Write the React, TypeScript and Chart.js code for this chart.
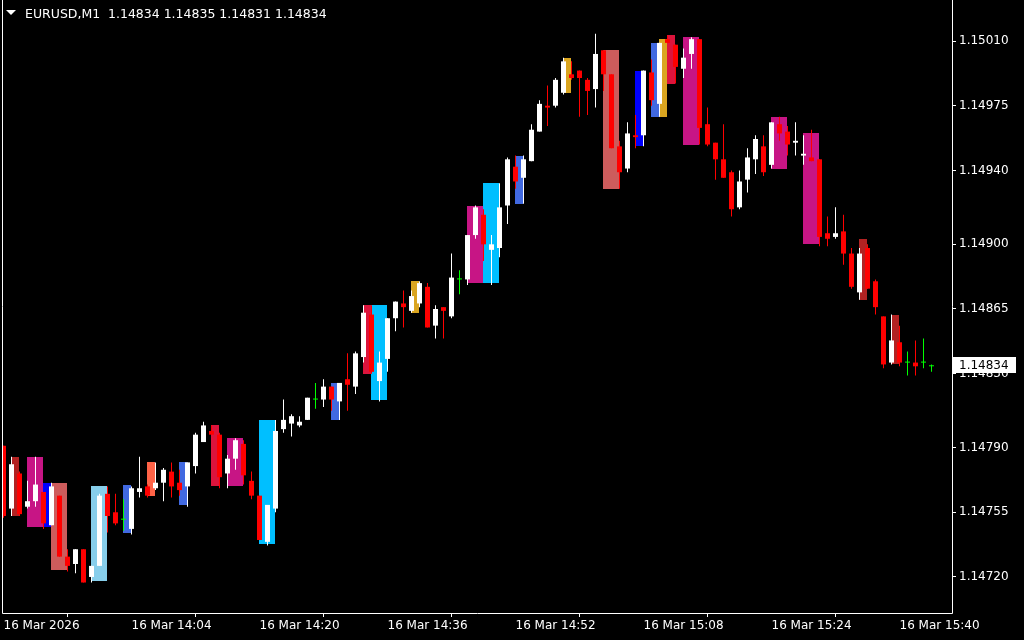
import React, { useEffect, useRef } from 'react';
import { Chart, registerables } from 'chart.js';

Chart.register(...registerables);

// ---- Data (EURUSD M1, 16 Mar 2026 13:48 .. 15:44) ----
const opens = [
  1.14791, 1.14757, 1.14776, 1.14758, 1.14761, 1.14766, 1.14748, 1.14764, 1.14731, 1.14727,
  1.14735, 1.14720, 1.14726, 1.14765, 1.14755, 1.14751, 1.14746, 1.14766, 1.14769, 1.14768,
  1.14771, 1.14777, 1.14771, 1.14769, 1.14780, 1.14793, 1.14799, 1.14797, 1.14776, 1.14784,
  1.14792, 1.14772, 1.14764, 1.14739, 1.14757, 1.14800, 1.14803, 1.14802, 1.14805, 1.14816,
  1.14816, 1.14823, 1.14815, 1.14827, 1.14823, 1.14839, 1.14862, 1.14826, 1.14838, 1.14860,
  1.14868, 1.14864, 1.14868, 1.14877, 1.14856, 1.14866, 1.14861, 1.14881, 1.14881, 1.14905,
  1.14916, 1.14897, 1.14898, 1.14921, 1.14942, 1.14936, 1.14945, 1.14961, 1.14975, 1.14975,
  1.14982, 1.14992, 1.14994, 1.14989, 1.14984, 1.15005, 1.14992, 1.14953, 1.14941, 1.14959,
  1.14959, 1.14993, 1.14976, 1.15011, 1.15008, 1.14995, 1.15003, 1.15011, 1.14965, 1.14955,
  1.14946, 1.14939, 1.14920, 1.14935, 1.14946, 1.14953, 1.14943, 1.14965, 1.14961, 1.14955,
  1.14948, 1.14947, 1.14946, 1.14906, 1.14904, 1.14907, 1.14895, 1.14874, 1.14898, 1.14880,
  1.14861, 1.14836, 1.14847, 1.14836, 1.14836, 1.14836, 1.14834,
];
const highs = [
  1.14791, 1.14785, 1.14777, 1.14772, 1.14785, 1.14766, 1.14771, 1.14764, 1.14735, 1.14735,
  1.14735, 1.14726, 1.14765, 1.14769, 1.14765, 1.14762, 1.14769, 1.14785, 1.14770, 1.14782,
  1.14779, 1.14782, 1.14778, 1.14782, 1.14798, 1.14804, 1.14802, 1.14798, 1.14786, 1.14795,
  1.14794, 1.14777, 1.14764, 1.14759, 1.14805, 1.14816, 1.14808, 1.14807, 1.14817, 1.14825,
  1.14827, 1.14823, 1.14825, 1.14841, 1.14842, 1.14867, 1.14867, 1.14842, 1.14860, 1.14869,
  1.14875, 1.14875, 1.14880, 1.14879, 1.14867, 1.14866, 1.14895, 1.14886, 1.14905, 1.14921,
  1.14919, 1.14905, 1.14933, 1.14947, 1.14948, 1.14948, 1.14965, 1.14978, 1.14986, 1.14990,
  1.15001, 1.14999, 1.14994, 1.14990, 1.15014, 1.15005, 1.14992, 1.14956, 1.14966, 1.14970,
  1.14994, 1.15000, 1.15009, 1.15013, 1.15008, 1.15006, 1.15012, 1.15011, 1.14974, 1.14955,
  1.14965, 1.14940, 1.14940, 1.14952, 1.14959, 1.14959, 1.14966, 1.14969, 1.14964, 1.14966,
  1.14959, 1.14962, 1.14946, 1.14915, 1.14920, 1.14916, 1.14898, 1.14898, 1.14900, 1.14881,
  1.14861, 1.14862, 1.14856, 1.14842, 1.14848, 1.14849, 1.14835,
];
const lows = [
  1.14752, 1.14753, 1.14753, 1.14757, 1.14758, 1.14746, 1.14748, 1.14731, 1.14723, 1.14722,
  1.14717, 1.14717, 1.14726, 1.14744, 1.14748, 1.14745, 1.14743, 1.14763, 1.14763, 1.14767,
  1.14761, 1.14763, 1.14764, 1.14758, 1.14776, 1.14793, 1.14797, 1.14768, 1.14768, 1.14778,
  1.14770, 1.14762, 1.14740, 1.14737, 1.14755, 1.14798, 1.14796, 1.14801, 1.14805, 1.14811,
  1.14812, 1.14810, 1.14805, 1.14810, 1.14819, 1.14836, 1.14830, 1.14815, 1.14831, 1.14853,
  1.14855, 1.14863, 1.14866, 1.14855, 1.14849, 1.14849, 1.14860, 1.14873, 1.14878, 1.14903,
  1.14891, 1.14878, 1.14893, 1.14911, 1.14930, 1.14922, 1.14945, 1.14961, 1.14964, 1.14974,
  1.14981, 1.14989, 1.14969, 1.14970, 1.14974, 1.14983, 1.14952, 1.14930, 1.14939, 1.14952,
  1.14953, 1.14975, 1.14969, 1.15009, 1.14987, 1.14990, 1.14995, 1.14954, 1.14953, 1.14935,
  1.14936, 1.14915, 1.14919, 1.14928, 1.14938, 1.14937, 1.14941, 1.14956, 1.14948, 1.14948,
  1.14943, 1.14945, 1.14899, 1.14899, 1.14903, 1.14889, 1.14876, 1.14870, 1.14876, 1.14862,
  1.14833, 1.14835, 1.14834, 1.14829, 1.14829, 1.14833, 1.14831,
];
const closes = [
  1.14753, 1.14781, 1.14754, 1.14761, 1.14770, 1.14749, 1.14769, 1.14731, 1.14726, 1.14735,
  1.14717, 1.14726, 1.14764, 1.14753, 1.14749, 1.14751, 1.14768, 1.14768, 1.14764, 1.14771,
  1.14778, 1.14769, 1.14767, 1.14782, 1.14797, 1.14802, 1.14797, 1.14774, 1.14784, 1.14794,
  1.14775, 1.14764, 1.14740, 1.14759, 1.14799, 1.14805, 1.14807, 1.14804, 1.14817, 1.14816,
  1.14823, 1.14816, 1.14825, 1.14824, 1.14841, 1.14863, 1.14831, 1.14836, 1.14860, 1.14869,
  1.14866, 1.14872, 1.14879, 1.14855, 1.14865, 1.14864, 1.14882, 1.14881, 1.14905, 1.14920,
  1.14900, 1.14900, 1.14920, 1.14946, 1.14934, 1.14946, 1.14962, 1.14976, 1.14974, 1.14989,
  1.14999, 1.14990, 1.14990, 1.14983, 1.15003, 1.14992, 1.14952, 1.14939, 1.14960, 1.14958,
  1.14994, 1.14978, 1.15009, 1.15009, 1.14996, 1.15001, 1.15011, 1.14963, 1.14954, 1.14946,
  1.14936, 1.14919, 1.14934, 1.14947, 1.14957, 1.14939, 1.14966, 1.14960, 1.14954, 1.14956,
  1.14949, 1.14945, 1.14904, 1.14903, 1.14906, 1.14895, 1.14877, 1.14895, 1.14876, 1.14866,
  1.14835, 1.14848, 1.14836, 1.14836, 1.14834, 1.14836, 1.14834,
];

// Indicator rectangles (from candle index to candle index, price top/bottom)
const boxStart = [1, 3, 5, 6, 11, 15, 18, 22, 26, 28, 32, 41, 45, 46, 51, 58, 60, 64, 70, 75, 79, 81, 82, 83, 85, 96, 100, 107, 111];
const boxEnd = [2, 5, 6, 8, 13, 16, 19, 23, 27, 30, 34, 42, 46, 48, 52, 60, 62, 65, 71, 77, 80, 82, 83, 84, 87, 98, 102, 108, 112];
const boxHigh = [
  1.14785, 1.14785, 1.14771, 1.14771, 1.14769, 1.14770, 1.14782, 1.14782, 1.14802, 1.14795,
  1.14805, 1.14825, 1.14867, 1.14867, 1.14880, 1.14921, 1.14933, 1.14948, 1.15001, 1.15005,
  1.14994, 1.15009, 1.15011, 1.15013, 1.15012, 1.14969, 1.14960, 1.14903, 1.14862,
];
const boxLow = [
  1.14753, 1.14747, 1.14747, 1.14724, 1.14718, 1.14744, 1.14764, 1.14759, 1.14769, 1.14769,
  1.14738, 1.14805, 1.14830, 1.14816, 1.14863, 1.14879, 1.14879, 1.14922, 1.14982, 1.14930,
  1.14953, 1.14969, 1.14969, 1.14987, 1.14954, 1.14941, 1.14900, 1.14870, 1.14835,
];
const boxKind = [
  'firebrick', 'magenta', 'blue', 'indianred', 'skyblue', 'royalblue', 'tomato', 'royalblue', 'crimson', 'magenta',
  'deepskyblue', 'royalblue', 'crimson', 'deepskyblue', 'goldenrod', 'magenta', 'deepskyblue', 'royalblue', 'goldenrod', 'indianred',
  'blue', 'royalblue', 'goldenrod', 'crimson', 'magenta', 'magenta', 'magenta', 'firebrick', 'firebrick',
];

const xTickIndex = [0, 16, 32, 48, 64, 80, 96, 112];
const xTickLabels = [
  '16 Mar 2026', '16 Mar 14:04', '16 Mar 14:20', '16 Mar 14:36',
  '16 Mar 14:52', '16 Mar 15:08', '16 Mar 15:24', '16 Mar 15:40',
];
const yTicks = [1.1501, 1.14975, 1.1494, 1.149, 1.14865, 1.1483, 1.1479, 1.14755, 1.1472];
const symbolLabel = 'EURUSD,M1';

const PALETTE: Record<string, string> = {
  firebrick: '#B22222',
  magenta: '#C71585',
  blue: '#0000FF',
  indianred: '#CD5C5C',
  skyblue: '#87CEEB',
  royalblue: '#4169E1',
  tomato: '#FF6347',
  crimson: '#DC143C',
  deepskyblue: '#00BFFF',
  goldenrod: '#DAA520',
};

const FONT = 'DejaVu Sans';

export default function App() {
  const ref = useRef<HTMLCanvasElement | null>(null);

  useEffect(() => {
    const canvas = ref.current;
    if (!canvas) return;
    const n = closes.length;
    const colors = opens.map((o, i) =>
      closes[i] > o ? '#FFFFFF' : closes[i] < o ? '#FF0000' : '#00FF00'
    );

    const boxesPlugin = {
      id: 'boxes',
      beforeDatasetsDraw(chart: any) {
        const { ctx, chartArea, scales } = chart;
        const x = scales.x;
        const y = scales.y;
        ctx.save();
        ctx.beginPath();
        ctx.rect(chartArea.left, chartArea.top, chartArea.right - chartArea.left, chartArea.bottom - chartArea.top);
        ctx.clip();
        boxStart.forEach((s, k) => {
          const x0 = Math.floor(x.getPixelForValue(s));
          const x1 = Math.floor(x.getPixelForValue(boxEnd[k]));
          const y0 = Math.round(y.getPixelForValue(boxHigh[k]));
          const y1 = Math.round(y.getPixelForValue(boxLow[k]));
          ctx.fillStyle = PALETTE[boxKind[k]];
          ctx.fillRect(x0, y0, x1 - x0, y1 - y0);
        });
        ctx.restore();
      },
    };

    const decorPlugin = {
      id: 'decor',
      afterDraw(chart: any) {
        const { ctx, chartArea, scales } = chart;
        const y = scales.y;
        ctx.save();
        // frame
        ctx.strokeStyle = '#FFFFFF';
        ctx.lineWidth = 1;
        ctx.beginPath();
        ctx.moveTo(chartArea.left + 0.5, chartArea.top);
        ctx.lineTo(chartArea.left + 0.5, chartArea.bottom + 0.5);
        ctx.lineTo(chartArea.right + 0.5, chartArea.bottom + 0.5);
        ctx.lineTo(chartArea.right + 0.5, chartArea.top);
        ctx.stroke();

        // current price label
        const last = closes[n - 1];
        const py = Math.round(y.getPixelForValue(last));
        ctx.fillStyle = '#FFFFFF';
        ctx.fillRect(chartArea.right + 1, py - 9, 63, 16);
        ctx.fillStyle = '#000000';
        ctx.font = `12px "${FONT}"`;
        ctx.textBaseline = 'middle';
        ctx.textAlign = 'left';
        ctx.fillText(last.toFixed(5), chartArea.right + 7, py - 0.5);

        // header
        ctx.fillStyle = '#FFFFFF';
        ctx.beginPath();
        ctx.moveTo(6, 10);
        ctx.lineTo(16, 10);
        ctx.lineTo(11, 15);
        ctx.closePath();
        ctx.fill();
        ctx.textBaseline = 'alphabetic';
        ctx.font = `12.5px "${FONT}"`;
        ctx.fillText(symbolLabel, 25, 18);
        const header = `${opens[n - 1].toFixed(5)} ${highs[n - 1].toFixed(5)} ${lows[n - 1].toFixed(5)} ${closes[n - 1].toFixed(5)}`;
        ctx.fillText(header, 108, 18);
        ctx.restore();
      },
    };

    const chart = new Chart(canvas, {
      type: 'bar',
      data: {
        datasets: [
          {
            label: 'body',
            data: opens.map((o, i) => ({ x: i, y: [o, closes[i]] })) as any,
            backgroundColor: colors,
            maxBarThickness: 5,
            minBarLength: 1,
            grouped: false,
            order: 1,
            borderWidth: 0,
            inflateAmount: 0,
          },
          {
            label: 'wick',
            data: lows.map((l, i) => ({ x: i, y: [l, highs[i]] })) as any,
            backgroundColor: colors,
            maxBarThickness: 1,
            grouped: false,
            order: 2,
            borderWidth: 0,
            inflateAmount: 0,
          },
        ],
      },
      options: {
        responsive: false,
        animation: false,
        devicePixelRatio: 1,
        layout: { padding: { left: 2, top: 0, right: 0, bottom: 0 } },
        plugins: { legend: { display: false }, tooltip: { enabled: false } },
        scales: {
          x: {
            type: 'linear',
            min: -0.1875,
            max: 118.5625,
            offset: false,
            afterBuildTicks: (s: any) => {
              s.ticks = xTickIndex.map((v) => ({ value: v }));
            },
            afterFit: (s: any) => {
              s.height = 27;
              s.paddingLeft = 0;
              s.paddingRight = 0;
            },
            ticks: {
              autoSkip: false,
              maxRotation: 0,
              minRotation: 0,
              align: 'start',
              color: '#FFFFFF',
              font: { family: FONT, size: 12 },
              padding: 2,
              callback: (v: any) => {
                const k = xTickIndex.indexOf(Number(v));
                return k >= 0 ? xTickLabels[k] : '';
              },
            },
            grid: { display: true, drawOnChartArea: false, drawTicks: true, tickLength: 4, color: '#FFFFFF' },
            border: { display: false },
          },
          y: {
            type: 'linear',
            position: 'right',
            min: 1.147005,
            max: 1.150322,
            afterBuildTicks: (s: any) => {
              s.ticks = yTicks.map((v) => ({ value: v }));
            },
            afterFit: (s: any) => {
              s.width = 72;
              s.paddingTop = 0;
              s.paddingBottom = 0;
            },
            ticks: {
              autoSkip: false,
              color: '#FFFFFF',
              font: { family: FONT, size: 12 },
              padding: 3,
              callback: (v: any) => Number(v).toFixed(5),
            },
            grid: { display: true, drawOnChartArea: false, drawTicks: true, tickLength: 4, color: '#FFFFFF' },
            border: { display: false },
          },
        },
      } as any,
      plugins: [boxesPlugin, decorPlugin],
    });
    return () => chart.destroy();
  }, []);

  return (
    <div style={{ position: 'fixed', left: 0, top: 0, width: 1024, height: 640, background: '#000000' }}>
      <canvas ref={ref} width={1024} height={640} style={{ display: 'block' }} />
    </div>
  );
}
